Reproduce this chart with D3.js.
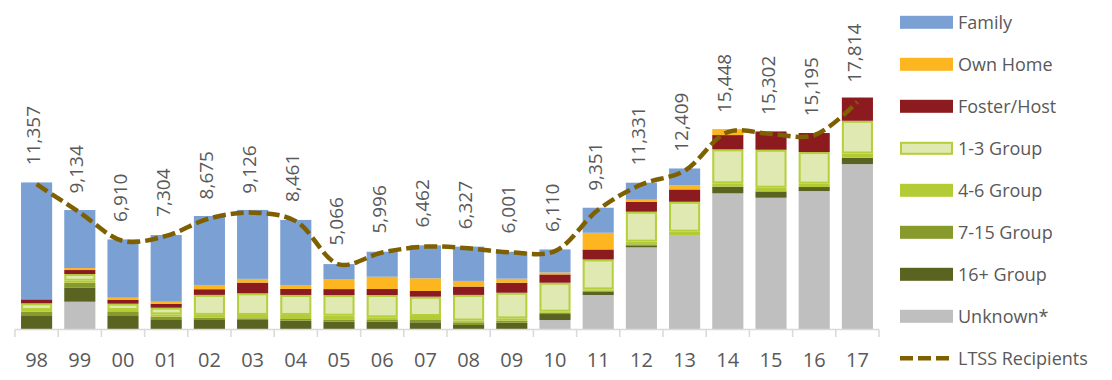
<!DOCTYPE html>
<html>
<head>
<meta charset="utf-8">
<script src="https://cdn.jsdelivr.net/npm/d3@7"></script>
<style>
  html, body { margin: 0; padding: 0; background: #fff; }
  svg { display: block; font-family: "Open Sans", "Noto Sans", sans-serif; }
</style>
</head>
<body>
<svg id="chart" width="1112" height="380"></svg>
<script>
// ---- data ----
const categories = ["98","99","00","01","02","03","04","05","06","07","08","09","10","11","12","13","14","15","16","17"];
const unknown   = [0, 2140, 0, 0, 0, 0, 0, 0, 0, 0, 0, 0, 705, 2665, 6405, 7370, 10640, 10295, 10820, 12935];
const group16   = [1020, 1120, 1020, 705, 760, 705, 650, 570, 570, 525, 315, 495, 470, 260, 155, 0, 525, 495, 315, 495];
const group7_15 = [340, 370, 315, 260, 135, 135, 135, 180, 135, 180, 210, 155, 100, 80, 80, 0, 0, 0, 0, 0];
const group4_6  = [130, 155, 155, 180, 210, 260, 315, 290, 210, 315, 135, 180, 80, 100, 210, 260, 260, 290, 260, 335];
const group1_3  = [525, 525, 495, 525, 1570, 1700, 1570, 1620, 1750, 1515, 2015, 2015, 2275, 2350, 2350, 2350, 2665, 2980, 2485, 2565];
const fosterHost= [315, 315, 315, 315, 445, 840, 470, 470, 470, 445, 650, 785, 650, 785, 785, 965, 1120, 1435, 1490, 1825];
const ownHome   = [25, 155, 155, 155, 335, 290, 315, 785, 965, 995, 445, 315, 155, 1310, 155, 335, 470, 0, 0, 0];
const family    = [9140, 4550, 4570, 5230, 5410, 5410, 5100, 1175, 1960, 2590, 2690, 2115, 1805, 1960, 1335, 1310, 0, 0, 0, 0];
const ltssRecipients = [11357, 9134, 6910, 7304, 8675, 9126, 8461, 5066, 5996, 6462, 6327, 6001, 6110, 9351, 11331, 12409, 15448, 15302, 15195, 17814];
const seriesNames = ["Unknown*", "16+ Group", "7-15 Group", "4-6 Group", "1-3 Group", "Foster/Host", "Own Home", "Family"];
const lineName = "LTSS Recipients";
const yDomain = [0, 20000];

// ---- styles ----
const colors = {
  "Unknown*": "#bfbfbf",
  "16+ Group": "#5a6320",
  "7-15 Group": "#879a2b",
  "4-6 Group": "#b3cb35",
  "1-3 Group": "#e0e9b1",
  "Foster/Host": "#8c1b1f",
  "Own Home": "#fdb620",
  "Family": "#7aa0d4"
};
const outline13 = "#b3cf3a";
const lineColor = "#7f6000";
const textColor = "#595959";

const seriesArrays = [unknown, group16, group7_15, group4_6, group1_3, fosterHost, ownHome, family];
const table = categories.map((c, i) => {
  const row = { cat: c };
  seriesNames.forEach((n, k) => row[n] = seriesArrays[k][i]);
  return row;
});
const stacked = d3.stack().keys(seriesNames)(table);

const svg = d3.select("#chart");
const x = d3.scaleBand().domain(categories).range([15, 879]).paddingInner(0.28).paddingOuter(0.14);
const y = d3.scaleLinear().domain(yDomain).range([329, 74]);

// bars
const layers = svg.append("g").selectAll("g").data(stacked).join("g")
  .attr("fill", d => colors[d.key]);
layers.each(function(layer) {
  const g = d3.select(this);
  const is13 = layer.key === "1-3 Group";
  g.selectAll("rect").data(layer.filter(d => d[1] - d[0] > 0)).join("rect")
    .attr("x", d => x(d.data.cat) + (is13 ? 1 : 0))
    .attr("width", x.bandwidth() - (is13 ? 2 : 0))
    .attr("y", d => y(d[1]) + (is13 ? 1 : 0))
    .attr("height", d => Math.max(0, y(d[0]) - y(d[1]) - (is13 ? 2 : 0)))
    .attr("stroke", is13 ? outline13 : "none")
    .attr("stroke-width", is13 ? 2 : 0);
});

// x axis
const axisY = 329.5;
const axisG = svg.append("g");
axisG.append("line").attr("x1", 15).attr("x2", 879).attr("y1", axisY).attr("y2", axisY)
  .attr("stroke", "#d9d9d9").attr("stroke-width", 1.5);
const boundaries = categories.map(c => x(c) - x.step() * x.paddingInner() / 2).concat([879]);
boundaries[0] = 15;
axisG.selectAll("line.tick").data(boundaries).join("line").attr("class", "tick")
  .attr("x1", d => d).attr("x2", d => d).attr("y1", axisY).attr("y2", 337)
  .attr("stroke", "#d9d9d9").attr("stroke-width", 1.5);
axisG.selectAll("text").data(categories).join("text")
  .attr("x", d => x(d) + x.bandwidth() / 2).attr("y", 366.5)
  .attr("text-anchor", "middle").attr("font-size", 20).attr("fill", textColor)
  .text(d => d);

// line
const pts = categories.map((c, i) => [x(c) + x.bandwidth() / 2, y(ltssRecipients[i])]);
svg.append("path")
  .attr("d", d3.line().curve(d3.curveCatmullRom.alpha(0.5))(pts))
  .attr("fill", "none").attr("stroke", lineColor).attr("stroke-width", 4.5)
  .attr("stroke-dasharray", "13,5");

// value labels
const fmt = d3.format(",");
svg.append("g").selectAll("text").data(ltssRecipients).join("text")
  .attr("transform", (d, i) => `translate(${pts[i][0] - 3},${pts[i][1] - 19}) rotate(-90)`)
  .attr("dy", "0.35em").attr("text-anchor", "start")
  .attr("font-size", 19).attr("fill", textColor)
  .text(d => fmt(d));

// legend
const legendItems = seriesNames.slice().reverse().concat([lineName]);
const lg = svg.append("g");
legendItems.forEach((name, i) => {
  const cy = 22.3 + 42 * i;
  if (name === lineName) {
    lg.append("line").attr("x1", 900).attr("x2", 953).attr("y1", cy).attr("y2", cy)
      .attr("stroke", lineColor).attr("stroke-width", 4.5).attr("stroke-dasharray", "13,5");
  } else if (name === "1-3 Group") {
    lg.append("rect").attr("x", 901).attr("y", cy - 5.5).attr("width", 51).attr("height", 11)
      .attr("fill", colors[name]).attr("stroke", outline13).attr("stroke-width", 2);
  } else {
    lg.append("rect").attr("x", 900).attr("y", cy - 6.5).attr("width", 53).attr("height", 13)
      .attr("fill", colors[name]);
  }
  lg.append("text").attr("x", 958).attr("y", cy).attr("dy", "0.35em")
    .attr("font-size", 18).attr("fill", textColor).text(name);
});
</script>
</body>
</html>
